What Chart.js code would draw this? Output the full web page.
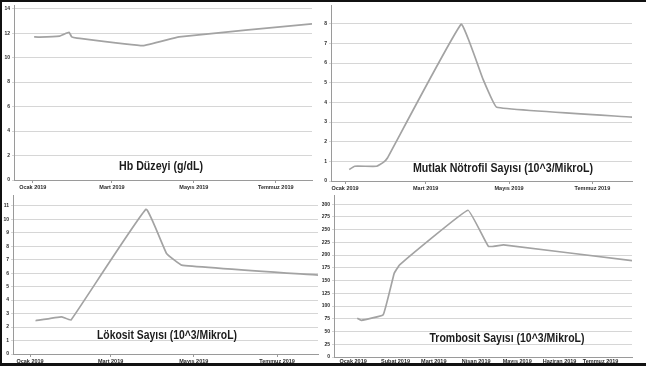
<!DOCTYPE html>
<html>
<head>
<meta charset="utf-8">
<script src="https://cdn.jsdelivr.net/npm/chart.js@4/dist/chart.umd.min.js"></script>
<style>
  html, body { margin: 0; padding: 0; background: #fff; }
  body { width: 646px; height: 368px; position: relative; overflow: hidden; }
  .panel { position: absolute; }
  .frame { position: absolute; background: #111; z-index: 5; }
</style>
</head>
<body>
<div class="panel" style="left:0;top:0;width:318px;height:192px"><canvas id="hb"></canvas></div>
<div class="panel" style="left:320px;top:0;width:326px;height:192px"><canvas id="neu"></canvas></div>
<div class="panel" style="left:0;top:190px;width:322px;height:176px"><canvas id="wbc"></canvas></div>
<div class="panel" style="left:320px;top:190px;width:326px;height:176px"><canvas id="plt"></canvas></div>
<div class="frame" style="left:0;top:0;width:646px;height:2px"></div>
<div class="frame" style="left:0;top:0;width:2px;height:366px"></div>
<div class="frame" style="left:0;top:363px;width:646px;height:3px"></div>
<script>
// --- Data ---
const monthStarts = ['2019-01-01', '2019-02-01', '2019-03-01', '2019-04-01', '2019-05-01', '2019-06-01', '2019-07-01'];
const monthNames = ['Ocak 2019', 'Şubat 2019', 'Mart 2019', 'Nisan 2019', 'Mayıs 2019', 'Haziran 2019', 'Temmuz 2019'];

const hbDates = ['2019-01-02', '2019-01-06', '2019-01-21', '2019-01-24', '2019-01-28', '2019-01-30', '2019-02-03', '2019-03-24', '2019-04-20', '2019-07-28'];
const hbValues = [11.7, 11.68, 11.75, 11.9, 12.07, 11.7, 11.6, 10.98, 11.7, 12.76];

const neuDates = ['2019-01-04', '2019-01-08', '2019-01-24', '2019-01-29', '2019-02-01', '2019-03-27', '2019-04-12', '2019-04-22', '2019-07-30'];
const neuValues = [0.58, 0.75, 0.75, 0.95, 1.17, 7.97, 5.17, 3.75, 3.25];

const wbcDates = ['2019-01-05', '2019-01-24', '2019-01-31', '2019-03-27', '2019-04-11', '2019-04-22', '2019-07-31'];
const wbcValues = [2.47, 2.76, 2.52, 10.74, 7.46, 6.6, 5.85];

const pltDates = ['2019-01-04', '2019-01-07', '2019-01-23', '2019-01-31', '2019-02-04', '2019-03-26', '2019-04-10', '2019-04-21', '2019-07-24'];
const pltValues = [76, 72, 83, 164, 181, 288, 217, 220, 189];

// --- Helpers ---
const dayOf = s => (Date.UTC(+s.slice(0, 4), +s.slice(5, 7) - 1, +s.slice(8, 10)) - Date.UTC(2019, 0, 1)) / 86400000;
const monthDays = monthStarts.map(dayOf);
const labelFor = v => monthNames[monthDays.indexOf(v)] || '';

const panelTitle = {
    id: 'panelTitle',
    afterDatasetsDraw(chart, args, opts) {
        const ctx = chart.ctx;
        ctx.save();
        ctx.font = 'bold 13px "Liberation Sans Narrow", "Liberation Sans", sans-serif';
        ctx.fillStyle = '#1c1c1c';
        ctx.textAlign = 'center';
        ctx.textBaseline = 'middle';
        ctx.fillText(opts.text, opts.x, opts.y, opts.width);
        ctx.restore();
    }
};

function makeChart(id, dates, values, cfg) {
    const tickDays = cfg.monthIdx.map(i => monthDays[i]);
    return new Chart(document.getElementById(id), {
        type: 'line',
        data: {
            datasets: [{
                data: dates.map((d, i) => ({ x: dayOf(d), y: values[i] })),
                borderColor: '#a3a3a3',
                borderWidth: 1.7,
                pointRadius: 0,
                tension: 0.08,
                fill: false
            }]
        },
        options: {
            responsive: true,
            maintainAspectRatio: false,
            animation: false,
            layout: { padding: cfg.padding },
            plugins: {
                legend: { display: false },
                tooltip: { enabled: false },
                panelTitle: cfg.title
            },
            scales: {
                x: {
                    type: 'linear',
                    min: cfg.xMin,
                    max: cfg.xMax,
                    afterBuildTicks: s => { s.ticks = tickDays.map(v => ({ value: v })); },
                    afterFit: s => { s.height = cfg.xHeight; },
                    grid: { drawOnChartArea: false, tickLength: cfg.tickLen, color: '#9a9a9a' },
                    border: { color: '#9a9a9a', width: 1 },
                    ticks: {
                        autoSkip: false, maxRotation: 0, padding: cfg.tickPad,
                        font: { size: 5.5, weight: 'bold', family: 'Liberation Sans' },
                        color: '#2a2a2a',
                        callback: v => labelFor(v)
                    }
                },
                y: {
                    min: 0,
                    max: cfg.yMax,
                    afterFit: s => { s.width = cfg.yWidth; },
                    grid: { color: '#d6d6d6', lineWidth: 1, tickLength: 2 },
                    border: { color: '#9a9a9a', width: 1 },
                    ticks: {
                        stepSize: cfg.yStep, includeBounds: false, padding: 2,
                        font: { size: 5, weight: 'bold', family: 'Liberation Sans' },
                        color: '#2a2a2a'
                    }
                }
            }
        },
        plugins: [panelTitle]
    });
}

makeChart('hb', hbDates, hbValues, {
    monthIdx: [0, 2, 4, 6], xMin: -14, xMax: 208,
    yMax: 14.3, yStep: 2, yWidth: 14, xHeight: 12, tickLen: 3, tickPad: 1,
    padding: { top: 5, right: 6, left: 0, bottom: 0 },
    title: { text: 'Hb Düzeyi (g/dL)', x: 161, y: 166, width: 84 }
});

makeChart('neu', neuDates, neuValues, {
    monthIdx: [0, 2, 4, 6], xMin: -10.3, xMax: 210,
    yMax: 8.95, yStep: 1, yWidth: 11, xHeight: 11, tickLen: 3, tickPad: 1,
    padding: { top: 1, right: 14, left: 0, bottom: 0 },
    title: { text: 'Mutlak Nötrofil Sayısı (10^3/MikroL)', x: 183, y: 168, width: 180 }
});

makeChart('wbc', wbcDates, wbcValues, {
    monthIdx: [0, 2, 4, 6], xMin: -12.5, xMax: 211,
    yMax: 11.8, yStep: 1, yWidth: 13, xHeight: 12, tickLen: 3, tickPad: 1,
    padding: { top: 5, right: 4, left: 0, bottom: 0 },
    title: { text: 'Lökosit Sayısı (10^3/MikroL)', x: 167, y: 145, width: 140 }
});

makeChart('plt', pltDates, pltValues, {
    monthIdx: [0, 1, 2, 3, 4, 5, 6], xMin: -14, xMax: 204,
    yMax: 318, yStep: 25, yWidth: 14, xHeight: 9, tickLen: 1, tickPad: 0,
    padding: { top: 5, right: 14, left: 0, bottom: 0 },
    title: { text: 'Trombosit Sayısı (10^3/MikroL)', x: 187, y: 148, width: 155 }
});
</script>
</body>
</html>
